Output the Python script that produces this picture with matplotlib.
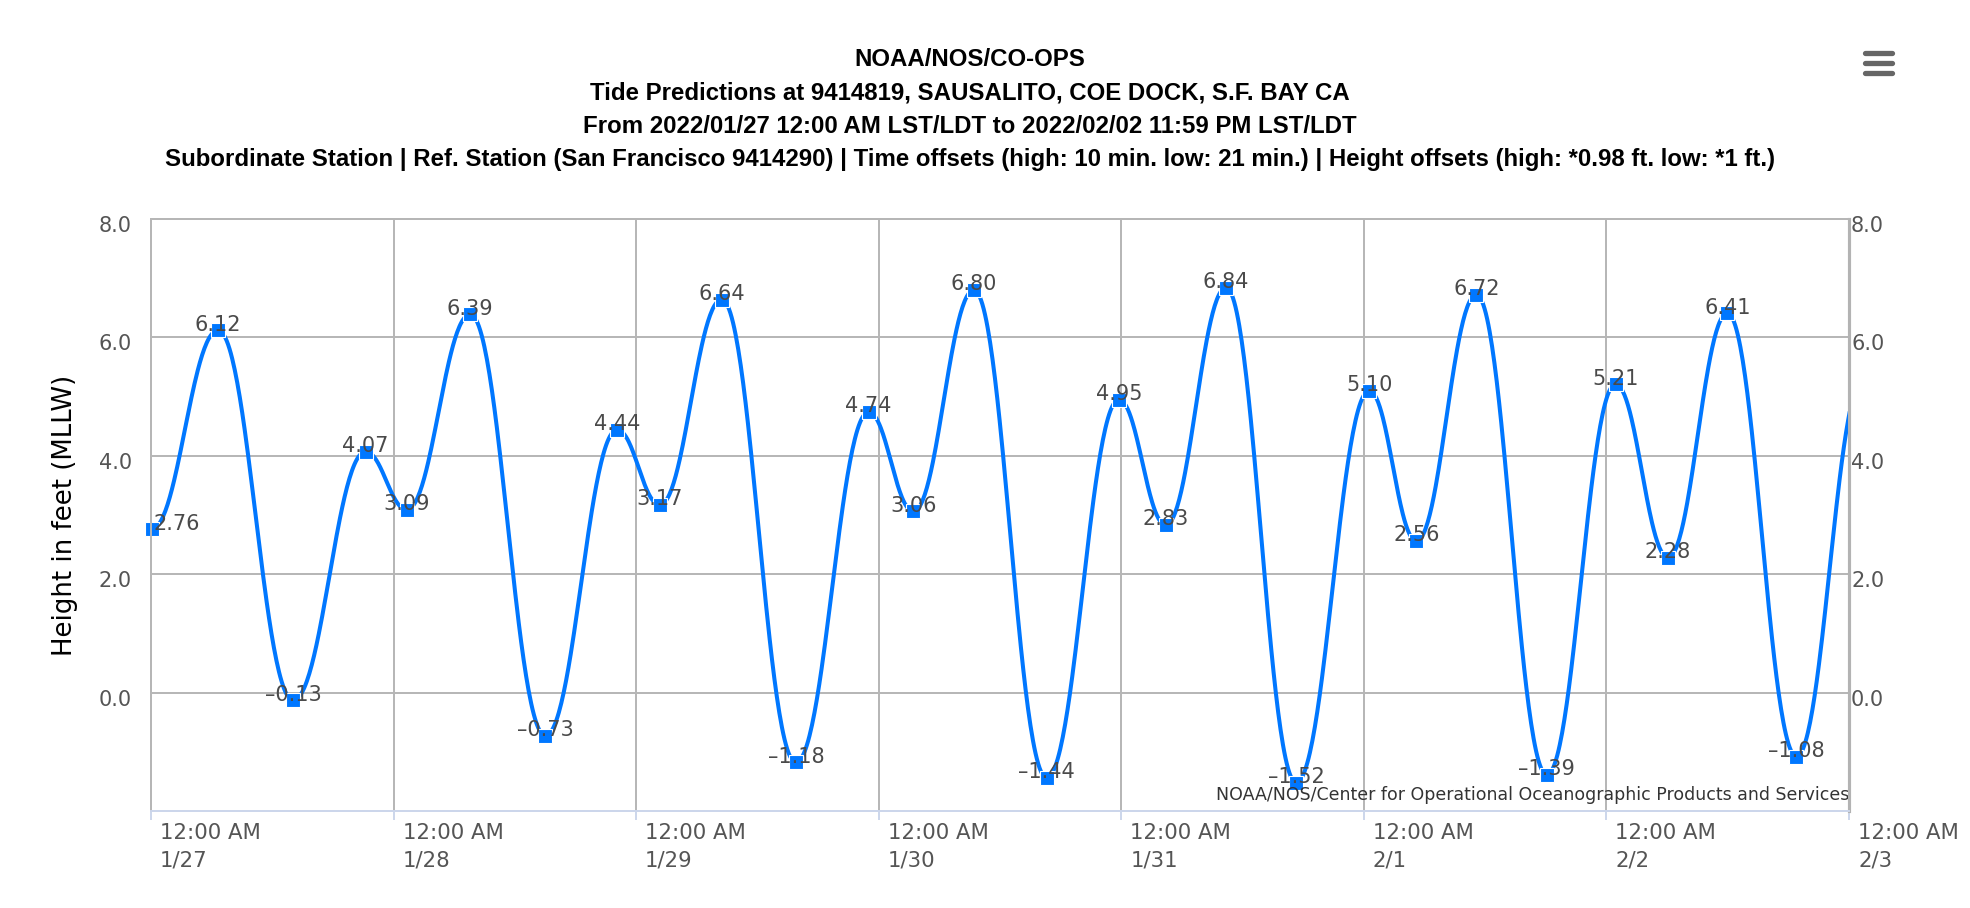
import numpy as np
import pandas as pd
import matplotlib
matplotlib.use('Agg')
import matplotlib.pyplot as plt
import matplotlib.dates as mdates
import matplotlib.transforms as mtransforms
from matplotlib.lines import Line2D

# hi/lo predictions; first and last two entries lie just outside the window
# (they only shape the curve at the edges, no marker or label is shown for them)
tide_times = ['2022-01-26 20:10', '2022-01-27 00:04', '2022-01-27 06:38', '2022-01-27 14:04',
              '2022-01-27 21:14', '2022-01-28 01:19', '2022-01-28 07:35', '2022-01-28 15:01',
              '2022-01-28 22:07', '2022-01-29 02:21', '2022-01-29 08:28', '2022-01-29 15:48',
              '2022-01-29 23:00', '2022-01-30 03:26', '2022-01-30 09:25', '2022-01-30 16:37',
              '2022-01-30 23:46', '2022-01-31 04:24', '2022-01-31 10:22', '2022-01-31 17:18',
              '2022-02-01 00:32', '2022-02-01 05:12', '2022-02-01 11:08', '2022-02-01 18:06',
              '2022-02-02 00:54', '2022-02-02 06:06', '2022-02-02 11:58', '2022-02-02 18:48',
              '2022-02-03 01:24', '2022-02-03 06:30']
tide_heights = [3.95, 2.76, 6.12, -0.13, 4.07, 3.09, 6.39, -0.73, 4.44, 3.17, 6.64, -1.18, 4.74,
                3.06, 6.80, -1.44, 4.95, 2.83, 6.84, -1.52, 5.10, 2.56, 6.72, -1.39, 5.21, 2.28,
                6.41, -1.08, 5.30, 2.00]

start = pd.Timestamp('2022-01-27 00:00')
end = pd.Timestamp('2022-02-03 00:00')
y_ticks = [0, 2, 4, 6, 8]

title_lines = ['NOAA/NOS/CO-OPS',
               'Tide Predictions at 9414819, SAUSALITO, COE DOCK, S.F. BAY CA',
               'From 2022/01/27 12:00 AM LST/LDT to 2022/02/02 11:59 PM LST/LDT',
               'Subordinate Station | Ref. Station (San Francisco 9414290) | Time offsets (high: 10 min. '
               'low: 21 min.) | Height offsets (high: *0.98 ft. low: *1 ft.)']

BLUE = '#0077ff'
GRID = '#b6b6b6'
AXBLUE = '#ccd6eb'


def spline_curve(xs, ys, n=60):
    # control points the way a highcharts 'spline' series builds them
    smoothing = 1.5
    denom = smoothing + 1
    npts = len(xs)
    left = [None] * npts
    right = [None] * npts
    for i in range(1, npts - 1):
        px, py = xs[i], ys[i]
        lx, ly = xs[i - 1], ys[i - 1]
        nx, ny = xs[i + 1], ys[i + 1]
        lcx = (smoothing * px + lx) / denom
        lcy = (smoothing * py + ly) / denom
        rcx = (smoothing * px + nx) / denom
        rcy = (smoothing * py + ny) / denom
        corr = 0
        if rcx != lcx:
            corr = (rcy - lcy) * (rcx - px) / (rcx - lcx) + py - rcy
        lcy += corr
        rcy += corr
        if lcy > ly and lcy > py:
            lcy = max(ly, py)
            rcy = 2 * py - lcy
        elif lcy < ly and lcy < py:
            lcy = min(ly, py)
            rcy = 2 * py - lcy
        if rcy > ny and rcy > py:
            rcy = max(ny, py)
            lcy = 2 * py - rcy
        elif rcy < ny and rcy < py:
            rcy = min(ny, py)
            lcy = 2 * py - rcy
        left[i] = (lcx, lcy)
        right[i] = (rcx, rcy)

    t = np.linspace(0, 1, n)[:, None]
    out = [np.array([[xs[0], ys[0]]])]
    for i in range(1, npts):
        p0 = np.array([xs[i - 1], ys[i - 1]])
        p3 = np.array([xs[i], ys[i]])
        p1 = np.array(right[i - 1]) if right[i - 1] is not None else p0
        p2 = np.array(left[i]) if left[i] is not None else p3
        seg = ((1 - t) ** 3) * p0 + 3 * ((1 - t) ** 2) * t * p1 + 3 * (1 - t) * t ** 2 * p2 + t ** 3 * p3
        out.append(seg[1:])
    c = np.vstack(out)
    return c[:, 0], c[:, 1]


times = pd.to_datetime(tide_times)
hours = np.array([(tt - start).total_seconds() / 3600 for tt in times])
heights = np.array(tide_heights)
shown = (times >= start) & (times < end)

cx, cy = spline_curve(hours, heights)
x0 = mdates.date2num(start)
curve_x = x0 + cx / 24
point_x = x0 + hours / 24

fig = plt.figure(figsize=(19.7, 9.08), dpi=100)
ax = fig.add_axes([151 / 1970, 1 - 811 / 908, 1698 / 1970, 592 / 908])

ax.plot(curve_x, cy, color=BLUE, lw=2.9, zorder=3, solid_joinstyle='round')
ax.plot(point_x[shown], heights[shown], 's', ms=9.4, mfc=BLUE, mec='white', mew=0.8, zorder=4,
        clip_on=False)

first = True
for px, h, ok in zip(point_x, heights, shown):
    if not ok:
        continue
    txt = f'{h:.2f}'.replace('-', '\u2013')
    if first:
        # label pushed inside the plot at the left edge
        ax.annotate(txt, (px, h), xytext=(1.5, -0.5), textcoords='offset points', ha='left',
                    va='baseline', fontsize=15, color='#4a4a4a', zorder=5)
        first = False
    else:
        ax.annotate(txt, (px, h), xytext=(0, -0.3), textcoords='offset points', ha='center',
                    va='baseline', fontsize=15, color='#4a4a4a', zorder=5)

ax.set_xlim(mdates.date2num(start), mdates.date2num(end))
ax.set_ylim(-2, 8)

days = pd.date_range(start, end, freq='D')
ax.set_xticks(mdates.date2num(days))
ax.set_xticklabels([d.strftime('%I:%M %p') + '\n' + f'{d.month}/{d.day}' for d in days],
                   ha='left', va='top', linespacing=1.44)
ax.tick_params(axis='x', direction='out', length=6.5, width=1.4, color=AXBLUE, pad=2.4,
               labelsize=15.3, labelcolor='#555555')
dx = mtransforms.ScaledTranslation(9 / 100, 0, fig.dpi_scale_trans)
for lab in ax.get_xticklabels():
    lab.set_transform(lab.get_transform() + dx)

ax.set_yticks(y_ticks)
ax.set_yticklabels([f'{v:.1f}' for v in y_ticks], va='baseline')
ax.tick_params(axis='y', length=0, pad=13.7, labelsize=15, labelcolor='#555555')
dy = mtransforms.ScaledTranslation(0, -13 / 100, fig.dpi_scale_trans)
for lab in ax.get_yticklabels():
    lab.set_transform(lab.get_transform() + dy)

ax2 = ax.twinx()
ax2.set_ylim(-2, 8)
ax2.set_yticks(y_ticks)
ax2.set_yticklabels([f'{v:.1f}' for v in y_ticks], va='baseline')
ax2.tick_params(axis='y', length=0, pad=1.5, labelsize=15, labelcolor='#555555')
for lab in ax2.get_yticklabels():
    lab.set_transform(lab.get_transform() + dy)

ax.grid(True, color=GRID, lw=1.4)
ax.set_axisbelow(True)
for a in (ax, ax2):
    a.spines['left'].set_color(GRID)
    a.spines['left'].set_linewidth(1.4)
    a.spines['top'].set_color(GRID)
    a.spines['top'].set_linewidth(1.4)
    a.spines['right'].set_color('#b3b3b3')
    a.spines['right'].set_linewidth(2.2)
    a.spines['bottom'].set_color(AXBLUE)
    a.spines['bottom'].set_linewidth(1.4)

fig.text(65 / 1970, 1 - 515 / 908, 'Height in feet (MLLW)', rotation=90, ha='center', va='center',
         fontsize=18.7, color='#000000')

title_y = [59.5, 93, 126.5, 159.5]
for line, yy in zip(title_lines, title_y):
    fig.text(970 / 1970, 1 - yy / 908, line, ha='center', va='center', fontsize=17.3,
             fontweight='bold', family='Liberation Sans', color='#000000')

ax.text(1.0, (800 - 811) / -592, 'NOAA/NOS/Center for Operational Oceanographic Products and Services',
        transform=ax.transAxes, ha='right', va='baseline', fontsize=12.5, color='#333333', zorder=6)

# menu button
for yy in [52.7, 62.7, 72.7]:
    fig.add_artist(Line2D([1864.5 / 1970, 1891.5 / 1970], [1 - yy / 908, 1 - yy / 908],
                          transform=fig.transFigure, color='#666666', lw=3.8, solid_capstyle='round'))

fig.savefig('out.png', dpi=100)
